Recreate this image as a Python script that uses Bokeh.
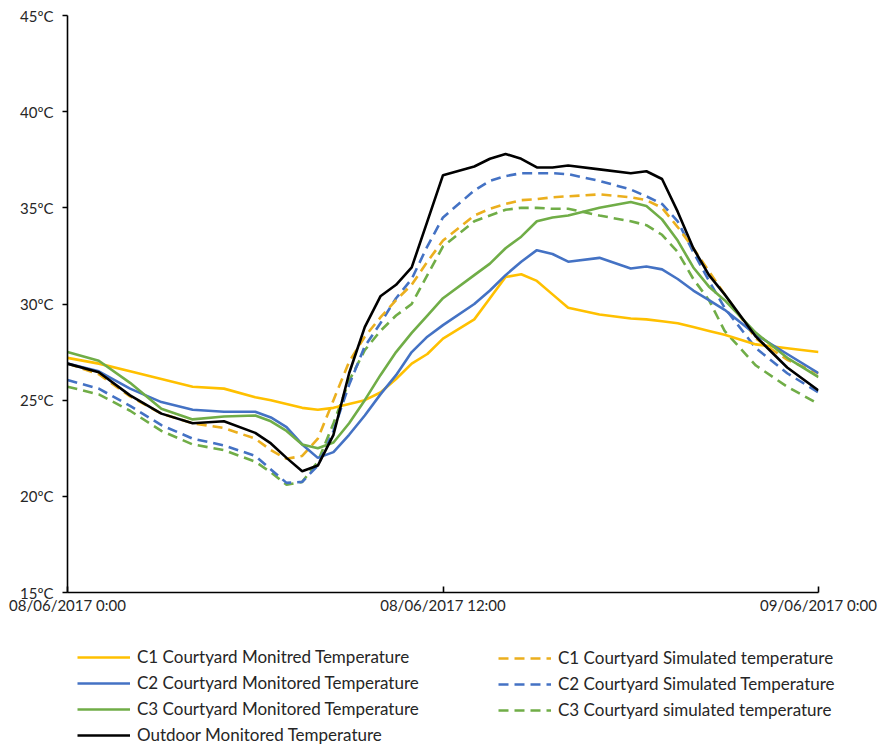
from bokeh.plotting import figure
from bokeh.models import Range1d, FixedTicker, Legend, LegendItem
from bokeh.layouts import column
from bokeh.embed import file_html
from bokeh.resources import INLINE

# ---- data (hours from 08/06/2017 0:00) ----
hours = [0, 1, 2, 3, 4, 5, 6, 6.5, 7, 7.5, 8, 8.5, 9, 9.5, 10, 10.5, 11, 11.5, 12,
         13, 13.5, 14, 14.5, 15, 15.5, 16, 17, 18, 18.5, 19, 19.5, 20, 20.5, 21, 22, 23, 24]

c1_monitored = [27.2, 26.9, 26.5, 26.1, 25.7, 25.6, 25.15, 25.0, 24.8, 24.6, 24.5, 24.6, 24.8, 25.0, 25.4, 26.1, 26.9, 27.4, 28.2,
                29.2, 30.3, 31.4, 31.55, 31.2, 30.5, 29.8, 29.45, 29.25, 29.2, 29.1, 29.0, 28.8, 28.6, 28.4, 27.9, 27.7, 27.5]
c2_monitored = [26.9, 26.5, 25.6, 24.9, 24.5, 24.4, 24.4, 24.1, 23.6, 22.7, 22.0, 22.3, 23.2, 24.2, 25.3, 26.3, 27.5, 28.3, 28.9,
                30.0, 30.7, 31.5, 32.2, 32.8, 32.6, 32.2, 32.4, 31.85, 31.95, 31.8, 31.3, 30.7, 30.2, 29.7, 28.4, 27.4, 26.4]
c3_monitored = [27.5, 27.05, 25.9, 24.55, 24.0, 24.15, 24.2, 23.9, 23.4, 22.7, 22.5, 22.8, 23.8, 25.0, 26.3, 27.5, 28.5, 29.4, 30.3,
                31.5, 32.1, 32.9, 33.5, 34.3, 34.5, 34.6, 35.0, 35.3, 35.1, 34.4, 33.3, 31.9, 30.9, 30.2, 28.5, 27.2, 26.2]
c1_simulated = [26.9, 26.35, 25.2, 24.3, 23.8, 23.55, 23.0, 22.4, 21.95, 22.1, 23.0, 25.0, 27.0, 28.3, 29.3, 30.2, 31.0, 32.2, 33.3,
                34.6, 34.95, 35.2, 35.4, 35.45, 35.55, 35.6, 35.7, 35.55, 35.4, 35.0, 34.0, 32.9, 31.7, 30.5, 28.2, 27.1, 26.4]
c2_simulated = [26.05, 25.6, 24.7, 23.7, 23.0, 22.65, 22.1, 21.4, 20.7, 20.75, 21.6, 23.4, 25.8, 27.8, 29.0, 30.3, 31.3, 33.0, 34.5,
                35.9, 36.4, 36.65, 36.8, 36.8, 36.8, 36.75, 36.4, 35.95, 35.6, 35.2, 34.3, 32.7, 31.2, 29.8, 27.7, 26.4, 25.4]
c3_simulated = [25.7, 25.3, 24.45, 23.4, 22.7, 22.4, 21.8, 21.25, 20.6, 20.75, 21.8, 23.8, 26.0, 27.6, 28.6, 29.4, 30.0, 31.5, 33.0,
                34.3, 34.6, 34.9, 35.0, 35.0, 34.95, 34.95, 34.6, 34.3, 34.1, 33.6, 32.7, 31.3, 30.2, 28.6, 26.8, 25.7, 24.8]
outdoor = [26.9, 26.45, 25.25, 24.3, 23.8, 23.9, 23.3, 22.75, 22.0, 21.3, 21.6, 23.2, 26.4, 28.8, 30.4, 31.0, 31.9, 34.3, 36.7,
           37.15, 37.55, 37.8, 37.55, 37.1, 37.1, 37.2, 37.0, 36.8, 36.9, 36.5, 34.8, 32.9, 31.5, 30.5, 28.3, 26.7, 25.5]

x_ticks = [0, 12, 24]
x_tick_labels = ["08/06/2017 0:00", "08/06/2017 12:00", "09/06/2017 0:00"]
y_ticks = [15, 20, 25, 30, 35, 40, 45]
y_tick_labels = ["15ºC", "20ºC", "25ºC", "30ºC", "35ºC", "40ºC", "45ºC"]

labels_left = ["C1 Courtyard Monitred Temperature", "C2 Courtyard Monitored Temperature",
               "C3 Courtyard Monitored Temperature", "Outdoor Monitored Temperature"]
labels_right = ["C1 Courtyard Simulated temperature", "C2 Courtyard Simulated Temperature",
                "C3 Courtyard simulated temperature"]
series_left = [c1_monitored, c2_monitored, c3_monitored, outdoor]
series_right = [c1_simulated, c2_simulated, c3_simulated]

FONT = "Lato"
TXT = "#262626"

YEL = "#FFC000"
YEL_D = "#EBAF1E"
BLU = "#4472C4"
GRN = "#70AD47"
LW = 2.6
DASH = "10 6"

styles_left = [dict(line_color=YEL), dict(line_color=BLU), dict(line_color=GRN), dict(line_color="black")]
styles_right = [dict(line_color=YEL_D, line_dash=DASH), dict(line_color=BLU, line_dash=DASH),
                dict(line_color=GRN, line_dash=DASH)]

W = 881
H_MAIN = 622
H_LEG = 123

# ---------------- main chart ----------------
p = figure(width=W, height=H_MAIN, output_backend="svg", toolbar_location=None,
           x_range=Range1d(0, 24), y_range=Range1d(15, 45),
           min_border_left=67, min_border_right=63, min_border_top=15, min_border_bottom=30)
p.outline_line_color = None
p.xgrid.visible = False
p.ygrid.visible = False

# dashed (simulated) first, so solid are on top
for s, st in zip(series_right[::-1], styles_right[::-1]):
    p.line(hours, s, line_width=LW, **st)
for s, st in zip(series_left, styles_left):
    p.line(hours, s, line_width=LW, **st)

p.xaxis.ticker = FixedTicker(ticks=x_ticks)
p.xaxis.major_label_overrides = {t: l for t, l in zip(x_ticks, x_tick_labels)}
p.yaxis.ticker = FixedTicker(ticks=y_ticks)
p.yaxis.major_label_overrides = {t: l for t, l in zip(y_ticks, y_tick_labels)}
for ax in (p.xaxis[0], p.yaxis[0]):
    ax.axis_line_color = "black"
    ax.axis_line_width = 1.6
    ax.major_tick_line_color = "black"
    ax.major_tick_line_width = 1.6
    ax.minor_tick_line_color = None
    ax.major_label_text_font = FONT
    ax.major_label_text_font_size = "15px"
    ax.major_label_text_color = TXT
p.xaxis.major_tick_in = 6
p.xaxis.major_tick_out = 0
p.xaxis.major_label_standoff = 3
p.yaxis.major_tick_in = 0
p.yaxis.major_tick_out = 5
p.yaxis.major_label_standoff = 9

# ---------------- legend strip (its lines lie outside its visible range) ----------------
lg = figure(width=W, height=H_LEG, output_backend="svg", toolbar_location=None,
            x_axis_location=None, y_axis_location=None,
            x_range=Range1d(0, 24), y_range=Range1d(100, 101),
            min_border_left=0, min_border_right=0, min_border_top=0, min_border_bottom=0)
lg.xgrid.visible = False
lg.ygrid.visible = False
lg.outline_line_color = None
off = 67
if "frame_align" in lg.properties():
    lg.frame_align = False
    p.frame_align = False
    off = 0

left_r = [lg.line(hours, s, line_width=LW, **st) for s, st in zip(series_left, styles_left)]
right_r = [lg.line(hours, s, line_width=LW, **st) for s, st in zip(series_right, styles_right)]

def make_legend(labels, rends, loc):
    return Legend(items=[LegendItem(label=l, renderers=[r]) for l, r in zip(labels, rends)],
                  location=loc, orientation="vertical",
                  glyph_width=53, glyph_height=20, spacing=5, label_standoff=7,
                  label_height=20, padding=0, margin=0,
                  border_line_alpha=0, background_fill_alpha=0,
                  label_text_font=FONT, label_text_font_size="17px",
                  label_text_color=TXT, click_policy="none")

lg.add_layout(make_legend(labels_left, left_r, (77 - off, 0)), "center")
lg.add_layout(make_legend(labels_right, right_r, (498 - off, 25)), "center")

layout = column(p, lg, spacing=0)
open("out.html", "w").write(file_html(layout, INLINE))
